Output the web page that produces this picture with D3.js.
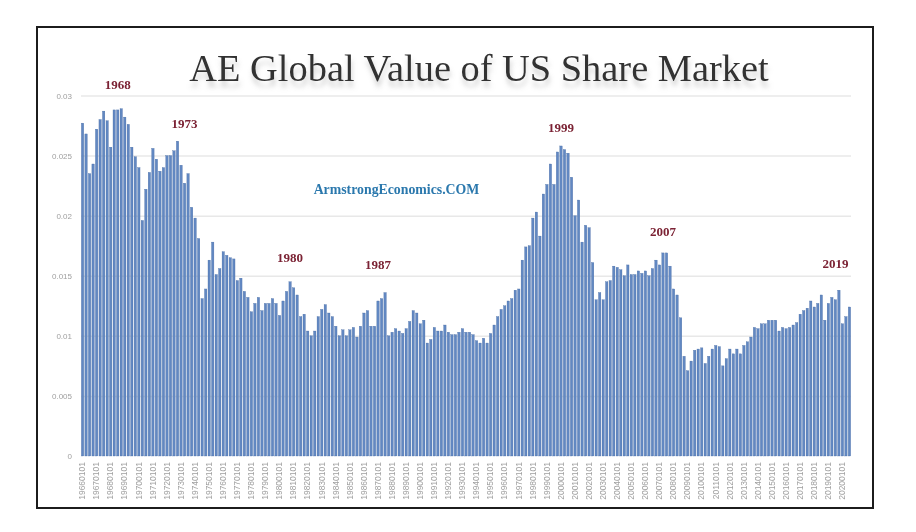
<!DOCTYPE html>
<html>
<head>
<meta charset="utf-8">
<script src="https://cdn.jsdelivr.net/npm/d3@7/dist/d3.min.js"></script>
<style>
  html, body { margin: 0; background: #fff; }
  svg { display: block; }
  .axis path { display: none; }
  .axis text { font-family: "Liberation Sans", sans-serif; fill: #a0a0a0; }
  .y.axis line { stroke: #e8e8e8; stroke-width: 1.5; }
</style>
</head>
<body>
<svg id="chart" width="916" height="532"></svg>
<script>
// quarterly values, 1966 Q1 to 2020 Q3
var values = [
  .0277, .0268, .0235, .0243, .0272, .0280, .0287, .0279, .0257, .0288,
  .0288, .0289, .0282, .0276, .0257, .0249, .0240, .0196, .0222, .0236,
  .0256, .0247, .0237, .0240, .0250, .0250, .0254, .0262, .0242, .0227,
  .0235, .0207, .0198, .0181, .0131, .0139, .0163, .0178, .0151, .0156,
  .0170, .0167, .0165, .0164, .0146, .0148, .0137, .0132, .0120, .0127,
  .0132, .0121, .0127, .0127, .0131, .0127, .0117, .0129, .0137, .0145,
  .0140, .0134, .0116, .0118, .0104, .0100, .0104, .0116, .0122, .0126,
  .0119, .0116, .0108, .0100, .0105, .0100, .0105, .0107, .0099, .0108,
  .0119, .0121, .0108, .0108, .0129, .0131, .0136, .0100, .0103, .0106,
  .0104, .0102, .0106, .0112, .0121, .0119, .0110, .0113, .0094, .0097,
  .0107, .0104, .0104, .0109, .0103, .0101, .0101, .0103, .0106, .0103,
  .0103, .0101, .0096, .0094, .0098, .0094, .0102, .0109, .0116, .0122,
  .0125, .0129, .0131, .0138, .0139, .0163, .0174, .0175, .0198, .0203,
  .0183, .0218, .0226, .0243, .0226, .0253, .0258, .0255, .0252, .0232,
  .0200, .0213, .0178, .0192, .0190, .0161, .0130, .0136, .0130, .0145,
  .0146, .0158, .0157, .0155, .0150, .0159, .0151, .0151, .0154, .0152,
  .0154, .0150, .0156, .0163, .0159, .0169, .0169, .0158, .0139, .0134,
  .0115, .0083, .0071, .0079, .0088, .0089, .0090, .0077, .0083, .0089,
  .0092, .0091, .0075, .0081, .0089, .0085, .0089, .0085, .0092, .0095,
  .0099, .0107, .0106, .0110, .0110, .0113, .0113, .0113, .0104, .0107,
  .0106, .0107, .0109, .0111, .0118, .0121, .0123, .0129, .0124, .0127,
  .0134, .0113, .0127, .0132, .0130, .0138, .0110, .0116, .0124
];

var quarterDays = ['0101', '0401', '0701', '1001'];
var yTicks = [0, 0.005, 0.01, 0.015, 0.02, 0.025, 0.03];

var noteLabels = ['1968', '1973', '1980', '1987', '1999', '2007', '2019'];
var noteCategories = ['19680701', '19730401', '19801001', '19870101', '20000101', '20070401', '20190701'];
var noteLevels = [0.03096, 0.0277, 0.01656, 0.0159, 0.02738, 0.01872, 0.01606];

var chartTitle = 'AE Global Value of US Share Market';
var watermark = 'ArmstrongEconomics.COM';

(function() {
  // category for every bar, yyyymmdd like the spreadsheet it came from
  var categories = values.map(function(d, i) {
    return (1966 + Math.floor(i / 4)) + quarterDays[i % 4];
  });

  var plotLeft = 81, plotRight = 851, plotTop = 95.5, plotBottom = 456;

  var x = d3.scaleBand().domain(categories).range([plotLeft, plotRight]).paddingInner(0.32).paddingOuter(0.1),
      y = d3.scaleLinear().domain([0, 0.03]).range([plotBottom, plotTop]);

  var svg = d3.select('#chart');

  var defs = svg.append('defs');
  defs.append('filter').attr('id', 'soft')
      .attr('x', '-2%').attr('y', '-2%').attr('width', '104%').attr('height', '104%')
    .append('feGaussianBlur').attr('stdDeviation', 0.3);

  var shadow = defs.append('filter').attr('id', 'titleShadow')
      .attr('x', '-5%').attr('y', '-20%').attr('width', '110%').attr('height', '170%');
  shadow.append('feDropShadow')
      .attr('dx', 1).attr('dy', 6).attr('stdDeviation', 2.5)
      .attr('flood-color', '#999').attr('flood-opacity', 0.45);

  svg.append('rect')
      .attr('x', 37).attr('y', 27)
      .attr('width', 836).attr('height', 481)
      .attr('fill', '#fff')
      .attr('stroke', '#1c1c1c')
      .attr('stroke-width', 2);

  var plot = svg.append('g').attr('filter', 'url(#soft)');

  plot.append('g')
      .attr('class', 'y axis')
      .attr('transform', 'translate(' + plotLeft + ',0)')
      .call(d3.axisLeft(y)
        .tickValues(yTicks)
        .tickSize(-(plotRight - plotLeft))
        .tickPadding(9)
        .tickFormat(function(d) { return String(d); }))
      .call(function(g) {
        g.selectAll('text').attr('font-size', 8);
        g.selectAll('.tick').filter(function(d) { return d === 0; }).select('line').remove();
      });

  plot.append('g')
      .selectAll('rect')
      .data(values)
      .enter().append('rect')
        .attr('x', function(d, i) { return x(categories[i]); })
        .attr('y', function(d) { return y(d); })
        .attr('width', x.bandwidth())
        .attr('height', function(d) { return y(0) - y(d); })
        .attr('fill', '#6288c2')
        .attr('stroke', '#3f659f')
        .attr('stroke-width', 0.3);

  plot.append('g')
      .attr('class', 'x axis')
      .attr('transform', 'translate(0,' + plotBottom + ')')
      .call(d3.axisBottom(x)
        .tickValues(categories.filter(function(d, i) { return i % 4 === 0; }))
        .tickSize(0)
        .tickPadding(0))
      .call(function(g) {
        g.selectAll('text')
          .attr('font-size', 8.5)
          .attr('text-anchor', 'end')
          .attr('dy', '0.32em')
          .attr('transform', 'translate(0,6) rotate(-90)')
          .attr('x', 0).attr('y', 0);
      });

  plot.append('g')
      .selectAll('text')
      .data(noteLabels)
      .enter().append('text')
        .attr('x', function(d, i) { return x(noteCategories[i]) + x.bandwidth() / 2; })
        .attr('y', function(d, i) { return y(noteLevels[i]); })
        .attr('dy', '0.35em')
        .attr('text-anchor', 'middle')
        .attr('font-family', '"Liberation Serif", serif')
        .attr('font-weight', 'bold')
        .attr('font-size', 13)
        .attr('fill', '#7b2334')
        .text(function(d) { return d; });

  plot.append('text')
      .attr('x', 396.5).attr('y', 194)
      .attr('text-anchor', 'middle')
      .attr('font-family', '"Liberation Serif", serif')
      .attr('font-weight', 'bold')
      .attr('font-size', 13.8)
      .attr('fill', '#2b78ad')
      .text(watermark);

  svg.append('text')
      .attr('x', 479).attr('y', 81)
      .attr('text-anchor', 'middle')
      .attr('font-family', '"Liberation Serif", serif')
      .attr('font-size', 38.4)
      .attr('fill', '#333')
      .attr('filter', 'url(#titleShadow)')
      .text(chartTitle);
})();
</script>
</body>
</html>
